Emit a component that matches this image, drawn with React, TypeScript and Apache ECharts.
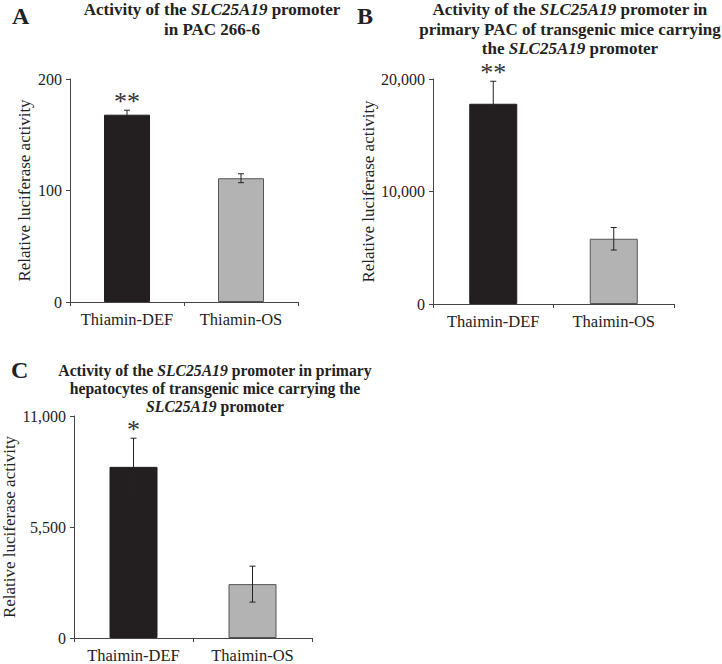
import React, { useEffect, useRef } from "react";
import * as echarts from "echarts";

const catsA = ["Thiamin-DEF", "Thiamin-OS"];
const catsBC = ["Thaimin-DEF", "Thaimin-OS"];

const valuesA = [168, 111];
const errorsA = [4, 4];
const sigA = ["**", ""];

const valuesB = [17800, 5800];
const errorsB = [2000, 1000];
const sigB = ["**", ""];

const valuesC = [8480, 2670];
const errorsC = [1420, 890];
const sigC = ["*", ""];

const ticksA = { min: 0, max: 200, interval: 100 };
const ticksB = { min: 0, max: 20000, interval: 10000 };
const ticksC = { min: 0, max: 11000, interval: 5500 };

const barColors = ["#231f20", "#b3b3b3"];
const FONT = "Liberation Serif";

function fmt(v: number) {
  return v.toLocaleString("en-US");
}

function barSeries(idx: number, vals: number[], barWidth: number) {
  return {
    type: "bar",
    xAxisIndex: idx,
    yAxisIndex: idx,
    barWidth,
    data: vals.map((v, i) => ({
      value: v,
      itemStyle: {
        color: barColors[i],
        borderColor: i === 0 ? "#231f20" : "#555555",
        borderWidth: 1,
      },
    })),
  };
}

function errSeries(idx: number, vals: number[], errs: number[], sig: string[]) {
  return {
    type: "custom",
    xAxisIndex: idx,
    yAxisIndex: idx,
    z: 10,
    data: vals.map((v, i) => [i, v, errs[i]]),
    renderItem: (params: any, api: any) => {
      const i = api.value(0);
      const v = api.value(1);
      const e = api.value(2);
      const top = api.coord([i, v + e]);
      const bot = api.coord([i, v - e]);
      const s = sig[params.dataIndex];
      const lineStyle = { stroke: "#222222", lineWidth: 1 };
      const children: any[] = [
        { type: "line", shape: { x1: top[0], y1: top[1], x2: bot[0], y2: bot[1] }, style: lineStyle },
        { type: "line", shape: { x1: top[0] - 3, y1: top[1], x2: top[0] + 3, y2: top[1] }, style: lineStyle },
        { type: "line", shape: { x1: bot[0] - 3, y1: bot[1], x2: bot[0] + 3, y2: bot[1] }, style: lineStyle },
      ];
      if (s) {
        children.push({
          type: "text",
          x: top[0],
          y: top[1] + 4,
          style: {
            text: s,
            fontSize: 26,
            fontFamily: FONT,
            fill: "#333333",
            align: "center",
            verticalAlign: "bottom",
          },
        });
      }
      return { type: "group", children };
    },
  };
}

function xAxis(idx: number, cats: string[]) {
  return {
    type: "category",
    gridIndex: idx,
    data: cats,
    axisLine: { show: true, lineStyle: { color: "#444444", width: 1 } },
    axisTick: { show: true, length: 4, alignWithLabel: false, interval: 0, lineStyle: { color: "#444444" } },
    axisLabel: { color: "#222222", fontSize: 16.5, fontFamily: FONT, margin: 9, interval: 0, hideOverlap: false },
    splitLine: { show: false },
  };
}

function yAxis(idx: number, t: { min: number; max: number; interval: number }, gap: number) {
  return {
    type: "value",
    gridIndex: idx,
    min: t.min,
    max: t.max,
    interval: t.interval,
    name: "Relative luciferase activity",
    nameLocation: "middle",
    nameRotate: 90,
    nameGap: gap,
    nameTextStyle: { color: "#222222", fontSize: 17, fontFamily: FONT },
    axisLine: { show: true, lineStyle: { color: "#444444", width: 1 } },
    axisTick: { show: true, length: 4, lineStyle: { color: "#444444" } },
    axisLabel: { color: "#222222", fontSize: 16, fontFamily: FONT, margin: 8, formatter: (v: number) => fmt(v) },
    splitLine: { show: false },
  };
}

const titleRich = {
  b: { fontSize: 17, fontWeight: "bold", fontFamily: FONT, color: "#222222", lineHeight: 19.5 },
  i: { fontSize: 17, fontWeight: "bold", fontStyle: "italic", fontFamily: FONT, color: "#222222", lineHeight: 19.5 },
};
const titleRichC = {
  b: { fontSize: 15.7, fontWeight: "bold", fontFamily: FONT, color: "#222222", lineHeight: 18 },
  i: { fontSize: 15.7, fontWeight: "bold", fontStyle: "italic", fontFamily: FONT, color: "#222222", lineHeight: 18 },
};

export default function App() {
  const ref = useRef<HTMLDivElement>(null);
  useEffect(() => {
    document.body.style.margin = "0";
    const chart = echarts.init(ref.current!, null, { renderer: "svg" });
    chart.setOption({
      animation: false,
      backgroundColor: "#ffffff",
      title: [
        {
          left: 207,
          top: -5,
          textAlign: "center",
          text: "{b|Activity of the }{i|SLC25A19}{b| promoter}\n{b|in PAC 266-6}",
          textStyle: { rich: titleRich },
        },
        {
          left: 565,
          top: -5,
          textAlign: "center",
          text:
            "{b|Activity of the }{i|SLC25A19}{b| promoter in}\n{b|primary PAC of transgenic mice carrying}\n{b|the }{i|SLC25A19}{b| promoter}",
          textStyle: { rich: titleRich },
        },
        {
          left: 210,
          top: 356,
          textAlign: "center",
          text:
            "{b|Activity of the }{i|SLC25A19}{b| promoter in primary}\n{b|hepatocytes of transgenic mice carrying the}\n{i|SLC25A19}{b| promoter}",
          textStyle: { rich: titleRichC },
        },
      ],
      graphic: [
        { type: "text", left: 12, top: 4, style: { text: "A", fontSize: 24, fontWeight: "bold", fontFamily: FONT, fill: "#222222" } },
        { type: "text", left: 357, top: 4, style: { text: "B", fontSize: 24, fontWeight: "bold", fontFamily: FONT, fill: "#222222" } },
        { type: "text", left: 11, top: 358, style: { text: "C", fontSize: 24, fontWeight: "bold", fontFamily: FONT, fill: "#222222" } },
      ],
      grid: [
        { left: 70, top: 79, width: 228, height: 223 },
        { left: 433, top: 79, width: 241, height: 225 },
        { left: 74, top: 416, width: 238, height: 222 },
      ],
      xAxis: [xAxis(0, catsA), xAxis(1, catsBC), xAxis(2, catsBC)],
      yAxis: [yAxis(0, ticksA, 37), yAxis(1, ticksB, 56), yAxis(2, ticksC, 56)],
      series: [
        barSeries(0, valuesA, 46),
        errSeries(0, valuesA, errorsA, sigA),
        barSeries(1, valuesB, 48),
        errSeries(1, valuesB, errorsB, sigB),
        barSeries(2, valuesC, 48),
        errSeries(2, valuesC, errorsC, sigC),
      ],
    });
    return () => chart.dispose();
  }, []);
  return <div ref={ref} style={{ width: 722, height: 664 }} />;
}
